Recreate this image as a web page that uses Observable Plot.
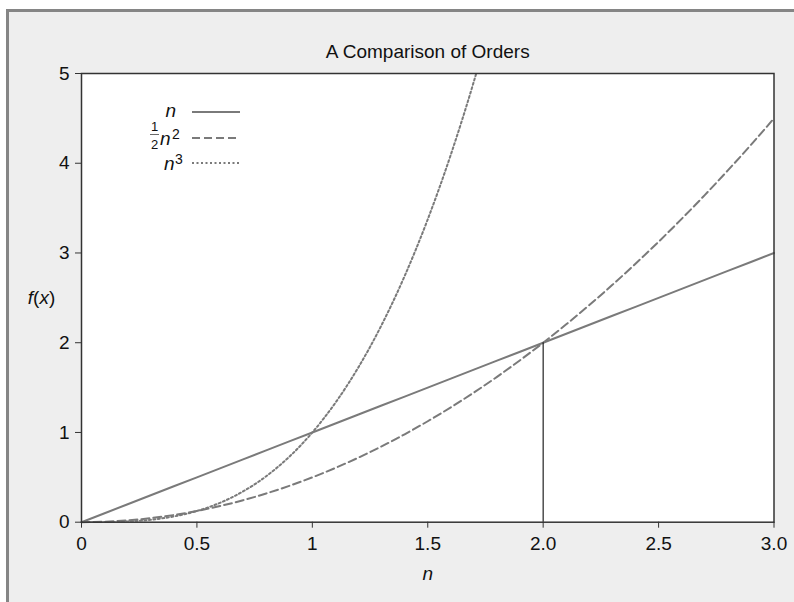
<!DOCTYPE html>
<html><head><meta charset="utf-8">
<script src="https://cdn.jsdelivr.net/npm/d3@7"></script>
<script src="https://cdn.jsdelivr.net/npm/@observablehq/plot@0.6"></script>
<style>
html,body{margin:0;padding:0;background:#fff;}
#page{position:relative;width:794px;height:602px;overflow:hidden;font-family:"Liberation Sans",Arial,sans-serif;}
#panel{position:absolute;left:6px;top:9px;width:800px;height:600px;background:#eeeeee;border-top:3px solid #858585;border-left:3px solid #858585;}
#chart{position:absolute;left:0;top:0;}
#legend{position:absolute;left:0;top:0;}
</style></head><body>
<div id="page"><div id="panel"></div><div id="chart"></div><svg id="legend" width="794" height="602"></svg></div>
<script>
// ---- data ----
const nValues = [0,0.1,0.2,0.3,0.4,0.5,0.6,0.7,0.8,0.9,1.0,1.1,1.2,1.3,1.4,1.5,1.6,1.7,1.8,1.9,2.0,2.1,2.2,2.3,2.4,2.5,2.6,2.7,2.8,2.9,3.0];
const linearValues = [0,0.1,0.2,0.3,0.4,0.5,0.6,0.7,0.8,0.9,1.0,1.1,1.2,1.3,1.4,1.5,1.6,1.7,1.8,1.9,2.0,2.1,2.2,2.3,2.4,2.5,2.6,2.7,2.8,2.9,3.0];
const halfSquareValues = [0,0.005,0.02,0.045,0.08,0.125,0.18,0.245,0.32,0.405,0.5,0.605,0.72,0.845,0.98,1.125,1.28,1.445,1.62,1.805,2.0,2.205,2.42,2.645,2.88,3.125,3.38,3.645,3.92,4.205,4.5];
const cubeValues = [0,0.001,0.008,0.027,0.064,0.125,0.216,0.343,0.512,0.729,1.0,1.331,1.728,2.197,2.744,3.375,4.096,4.913,5.832];
const seriesNames = ["n", "half n squared", "n cubed"];
const xTicks = [0,0.5,1,1.5,2,2.5,3];
const xTickLabels = ["0","0.5","1","1.5","2.0","2.5","3.0"];
const yTicks = [0,1,2,3,4,5];
const yTickLabels = ["0","1","2","3","4","5"];
const crossover = [{n: 2, f: 2}];
const titleText = "A Comparison of Orders";
const xLabel = "n";
const yLabel = "f(x)";

const toRows = (vals, name) => vals.map((f, i) => ({n: nValues[i], f, series: name}));
const linearRows = toRows(linearValues, seriesNames[0]);
const halfRows = toRows(halfSquareValues, seriesNames[1]);
const cubeRows = toRows(cubeValues, seriesNames[2]);

const lineColor = "#7a7a7a";
const dashed = "8,4";
const dotted = "2,2.5";
const font = "Liberation Sans, Arial, sans-serif";

const chart = Plot.plot({
  width: 794, height: 602,
  marginLeft: 81, marginRight: 20.5, marginTop: 73, marginBottom: 80.3,
  style: {background: "transparent", fontFamily: font, fontSize: "19px", color: "#111", overflow: "visible"},
  x: {domain: [0, 3]},
  y: {domain: [0, 5]},
  marks: [
    Plot.frame({fill: "white", stroke: null}),
    Plot.line(linearRows, {x: "n", y: "f", stroke: lineColor, strokeWidth: 2}),
    Plot.line(halfRows, {x: "n", y: "f", stroke: lineColor, strokeWidth: 2, strokeDasharray: dashed, curve: "monotone-x"}),
    Plot.line(cubeRows, {x: "n", y: "f", stroke: lineColor, strokeWidth: 2, strokeDasharray: dotted, curve: "monotone-x", clip: true}),
    Plot.ruleX(crossover, {x: "n", y1: 0, y2: "f", stroke: "#222", strokeWidth: 1.2}),
    Plot.frame({stroke: "#333", strokeWidth: 1.5}),
    Plot.axisX(xTicks, {tickFormat: d => xTickLabels[xTicks.indexOf(d)], tickSize: 6, tickPadding: 8, fontSize: 19, label: null, stroke: "#333"}),
    Plot.axisY(yTicks, {tickFormat: d => yTickLabels[yTicks.indexOf(d)], tickSize: 6, tickPadding: 6, fontSize: 19, label: null, stroke: "#333"}),
    Plot.text([titleText], {text: d => d, frameAnchor: "top", dy: -16, lineAnchor: "bottom", fontSize: 19, fill: "#111"}),
    Plot.text([xLabel], {text: d => d, frameAnchor: "bottom", dy: 52, lineAnchor: "middle", fontSize: 19, fontStyle: "italic", fill: "#111"}),
    Plot.text([yLabel], {text: d => d, frameAnchor: "left", dx: -40, textAnchor: "middle", lineAnchor: "middle", fontSize: 19, fill: "#111"})
  ]
});
document.getElementById("chart").appendChild(chart);

// mixed italic/upright for f(x)
d3.select(chart).selectAll("text").filter(function(){ return this.textContent === yLabel; }).each(function(){
  const t = d3.select(this);
  t.text(null);
  t.append("tspan").attr("font-style","italic").text("f");
  t.append("tspan").text("(");
  t.append("tspan").attr("font-style","italic").text("x");
  t.append("tspan").text(")");
});

// ---- legend ----
const lg = d3.select("#legend").style("font-family", font);
const legendRows = [
  {y: 112, dash: null},
  {y: 138, dash: dashed},
  {y: 163, dash: dotted}
];
legendRows.forEach(r => {
  const l = lg.append("line").attr("x1", 192).attr("x2", 240).attr("y1", r.y).attr("y2", r.y)
    .attr("stroke", lineColor).attr("stroke-width", 2);
  if (r.dash) l.attr("stroke-dasharray", r.dash);
});
// n
lg.append("text").attr("x", 176).attr("y", 117).attr("text-anchor", "end").attr("font-size", 19).attr("font-style", "italic").attr("fill", "#111").text("n");
// 1/2 n^2
lg.append("text").attr("x", 154.5).attr("y", 131).attr("text-anchor", "middle").attr("font-size", 13).attr("fill", "#111").text("1");
lg.append("line").attr("x1", 150).attr("x2", 159).attr("y1", 134.5).attr("y2", 134.5).attr("stroke", "#444").attr("stroke-width", 0.8);
lg.append("text").attr("x", 154.5).attr("y", 149).attr("text-anchor", "middle").attr("font-size", 13).attr("fill", "#111").text("2");
lg.append("text").attr("x", 160).attr("y", 145).attr("font-size", 19).attr("font-style", "italic").attr("fill", "#111").text("n");
lg.append("text").attr("x", 172).attr("y", 139).attr("font-size", 14).attr("fill", "#111").text("2");
// n^3
lg.append("text").attr("x", 164).attr("y", 170).attr("font-size", 19).attr("font-style", "italic").attr("fill", "#111").text("n");
lg.append("text").attr("x", 175).attr("y", 164).attr("font-size", 14).attr("fill", "#111").text("3");
</script>
</body></html>
